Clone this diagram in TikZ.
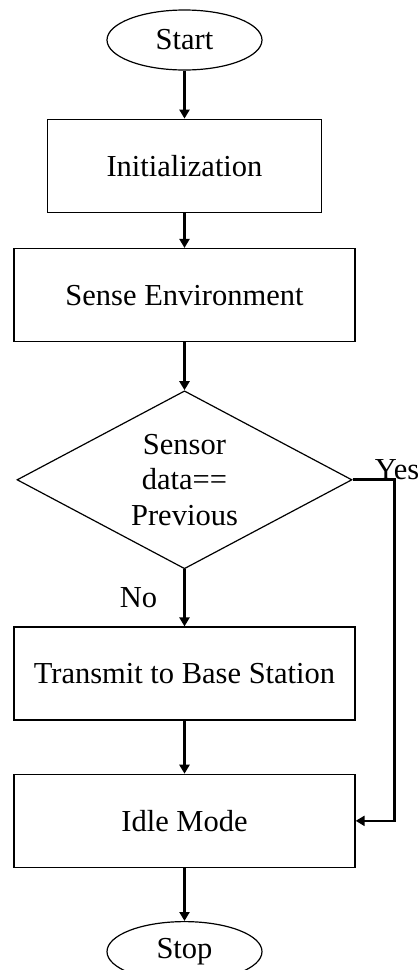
\documentclass[tikz,border=0pt]{standalone}
\usepackage{fontspec}
\setmainfont{Liberation Serif}
\usepackage{tikz}
\usetikzlibrary{arrows.meta,shapes.geometric,positioning}
\tikzset{
  node_term/.style={draw=black,ellipse,line width=1.2pt,minimum width=155pt,minimum height=60pt,
    inner sep=0pt,font=\fontsize{30.5}{35}\selectfont},
  node_box/.style={draw=black,rectangle,line width=1.3pt,minimum width=341pt,minimum height=93pt,
    font=\fontsize{30.5}{35}\selectfont},
  node_dec/.style={draw=black,diamond,aspect=1.88,line width=1.2pt,minimum width=335pt,minimum height=178pt,
    inner sep=0pt,align=center,font=\fontsize{30.5}{35.5}\selectfont},
  arr/.style={-{Triangle[length=9pt,width=10pt]},draw=black,line width=2.7pt},
  lbl/.style={inner sep=0pt,font=\fontsize{30.5}{35}\selectfont},
}

\begin{document}
\begin{tikzpicture}[x=1pt,y=1pt,node distance=48pt]
  \useasboundingbox (0,0) rectangle (418,-970);
  \node[node_term] (start) at (184.5,-40) {Start};
  \node[node_box,minimum width=274pt,below=of start] (init) {Initialization};
  \node[node_box,below=35pt of init] (sense) {Sense Environment};
  \node[node_dec,below=of sense] (dec) {Sensor\\data==\\Previous};
  \node[node_box,below=57pt of dec] (tx) {Transmit to Base Station};
  \node[node_box,below=53pt of tx] (idle) {Idle Mode};
  \node[node_term,below=53pt of idle] (stop) {Stop};

  \draw[arr](start)--(init);\draw[arr](init)--(sense);\draw[arr](sense)--(dec);
  \draw[arr](dec)--node[lbl,anchor=east,xshift=-26pt]{No}(tx);
  \draw[arr](tx)--(idle);\draw[arr](idle)--(stop);
  % yes branch runs down the right side into idle
  \draw[arr](dec.east)--++(42,0) node[lbl,anchor=base west,xshift=-21pt]{Yes} |-(idle.east);
\end{tikzpicture}
\end{document}
